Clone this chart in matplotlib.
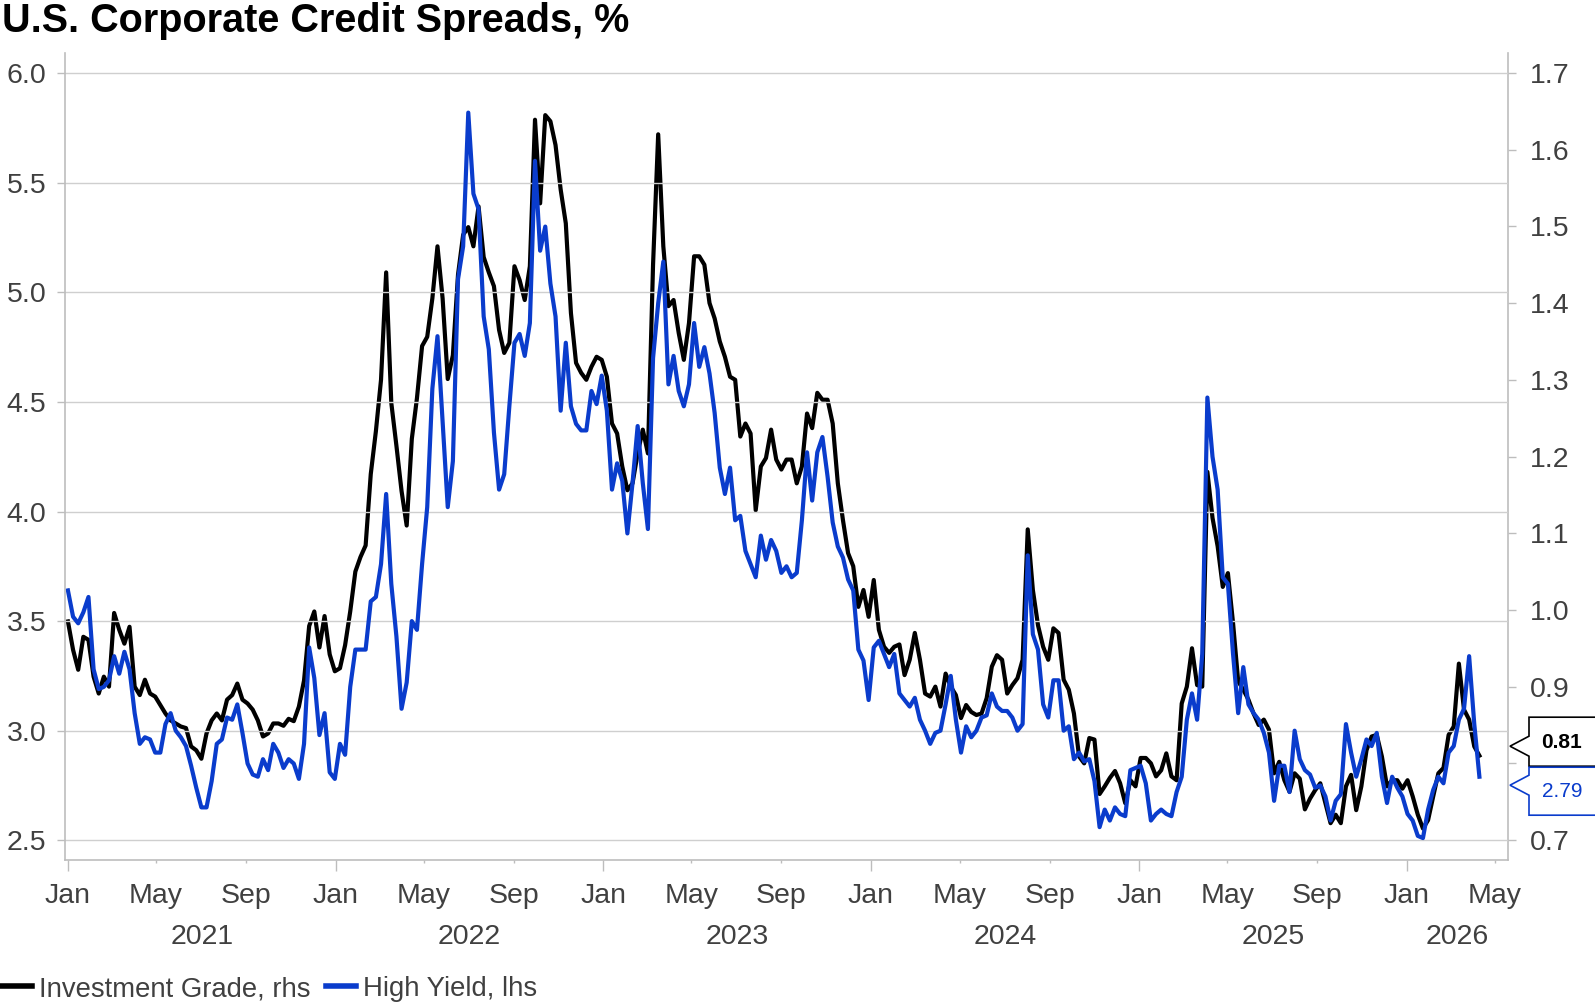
"""U.S. corporate credit spreads: IG (rhs) vs HY (lhs), weekly."""
import numpy as np
import pandas as pd
import matplotlib
matplotlib.use("Agg")
import matplotlib.pyplot as plt
import matplotlib.dates as mdates
import matplotlib.ticker as tkr
from matplotlib.patches import Polygon
from matplotlib.lines import Line2D
from matplotlib.transforms import IdentityTransform, blended_transform_factory

plt.rcParams['font.family'] = ['Liberation Sans', 'DejaVu Sans']

# weekly (Friday) observations, Jan 2021 - Apr 2026
dates = pd.date_range("2021-01-01", "2026-04-10", freq="W-FRI")

hy_2021 = [3.64, 3.52, 3.49, 3.54, 3.61, 3.28, 3.19, 3.20, 3.23, 3.34, 3.26, 3.36, 3.28,
           3.08, 2.94, 2.97, 2.96, 2.90, 2.90, 3.03, 3.08, 3.00, 2.97, 2.93, 2.84, 2.74,
           2.65, 2.65, 2.77, 2.94, 2.96, 3.06, 3.05, 3.12, 2.99, 2.85, 2.80, 2.79, 2.87,
           2.82, 2.94, 2.90, 2.83, 2.87, 2.85, 2.78, 2.94, 3.38, 3.24, 2.98, 3.08, 2.81, 2.78]
hy_2022 = [2.94, 2.89, 3.20, 3.37, 3.37, 3.37, 3.59, 3.61, 3.76, 4.08, 3.67, 3.43, 3.10,
           3.22, 3.50, 3.46, 3.76, 4.02, 4.56, 4.80, 4.41, 4.02, 4.23, 5.06, 5.21, 5.82,
           5.45, 5.38, 4.89, 4.74, 4.36, 4.10, 4.17, 4.48, 4.77, 4.81, 4.71, 4.86, 5.60,
           5.19, 5.30, 5.04, 4.89, 4.46, 4.77, 4.48, 4.40, 4.37, 4.37, 4.55, 4.49, 4.62]
hy_2023 = [4.46, 4.10, 4.22, 4.14, 3.90, 4.13, 4.39, 4.13, 3.92, 4.70, 4.95, 5.14, 4.58,
           4.71, 4.55, 4.48, 4.58, 4.86, 4.66, 4.75, 4.63, 4.45, 4.20, 4.08, 4.20, 3.96,
           3.98, 3.82, 3.76, 3.70, 3.89, 3.78, 3.87, 3.82, 3.72, 3.75, 3.70, 3.72, 3.96,
           4.27, 4.05, 4.27, 4.34, 4.16, 3.95, 3.84, 3.79, 3.69, 3.64, 3.37, 3.32, 3.14]
hy_2024 = [3.38, 3.41, 3.35, 3.29, 3.35, 3.17, 3.14, 3.11, 3.15, 3.05, 3.00, 2.94, 2.99,
           3.00, 3.12, 3.25, 3.05, 2.90, 3.02, 2.97, 3.00, 3.06, 3.07, 3.17, 3.11, 3.09,
           3.09, 3.06, 3.00, 3.03, 3.80, 3.44, 3.37, 3.12, 3.06, 3.23, 3.23, 3.00, 3.02,
           2.87, 2.90, 2.86, 2.87, 2.77, 2.56, 2.64, 2.59, 2.65, 2.62, 2.61, 2.82, 2.83]
hy_2025 = [2.84, 2.76, 2.59, 2.62, 2.64, 2.62, 2.61, 2.72, 2.79, 3.05, 3.17, 3.05, 3.35,
           4.52, 4.25, 4.10, 3.70, 3.67, 3.35, 3.08, 3.29, 3.12, 3.08, 3.05, 2.99, 2.90,
           2.68, 2.84, 2.84, 2.72, 3.00, 2.87, 2.82, 2.80, 2.74, 2.75, 2.70, 2.59, 2.68,
           2.71, 3.03, 2.90, 2.79, 2.87, 2.96, 2.93, 2.99, 2.79, 2.67, 2.79, 2.74, 2.70]
hy_2026 = [2.62, 2.59, 2.52, 2.51, 2.64, 2.73, 2.79, 2.76, 2.90, 2.93, 3.05, 3.10, 3.34,
           3.03, 2.79]

ig_2021 = [0.985, 0.948, 0.922, 0.965, 0.961, 0.913, 0.891, 0.913, 0.900, 0.996, 0.974,
           0.956, 0.978, 0.900, 0.889, 0.909, 0.891, 0.887, 0.876, 0.865, 0.856, 0.852,
           0.848, 0.846, 0.822, 0.817, 0.806, 0.839, 0.856, 0.865, 0.856, 0.883, 0.889,
           0.904, 0.883, 0.878, 0.870, 0.856, 0.835, 0.839, 0.852, 0.852, 0.849, 0.858,
           0.855, 0.874, 0.908, 0.979, 0.998, 0.951, 0.992, 0.942, 0.920]
ig_2022 = [0.924, 0.954, 0.998, 1.050, 1.069, 1.084, 1.177, 1.233, 1.300, 1.440, 1.270,
           1.214, 1.155, 1.110, 1.223, 1.276, 1.344, 1.356, 1.406, 1.474, 1.406, 1.301,
           1.332, 1.437, 1.489, 1.499, 1.474, 1.526, 1.460, 1.440, 1.422, 1.365, 1.335,
           1.348, 1.448, 1.430, 1.404, 1.448, 1.639, 1.530, 1.645, 1.637, 1.606, 1.548,
           1.504, 1.387, 1.322, 1.309, 1.300, 1.317, 1.330, 1.326]
ig_2023 = [1.304, 1.243, 1.230, 1.187, 1.156, 1.165, 1.204, 1.235, 1.204, 1.450, 1.620,
           1.474, 1.396, 1.404, 1.361, 1.326, 1.374, 1.461, 1.461, 1.450, 1.400, 1.380,
           1.350, 1.330, 1.304, 1.300, 1.226, 1.243, 1.230, 1.130, 1.187, 1.198, 1.235,
           1.196, 1.183, 1.196, 1.196, 1.165, 1.187, 1.256, 1.237, 1.283, 1.274, 1.274,
           1.243, 1.165, 1.117, 1.074, 1.057, 1.004, 1.026, 0.991]
ig_2024 = [1.039, 0.974, 0.952, 0.944, 0.952, 0.955, 0.915, 0.935, 0.970, 0.935, 0.891,
           0.887, 0.900, 0.874, 0.917, 0.900, 0.889, 0.859, 0.876, 0.867, 0.863, 0.865,
           0.885, 0.926, 0.941, 0.935, 0.891, 0.902, 0.911, 0.935, 1.105, 1.026, 0.980,
           0.952, 0.935, 0.976, 0.970, 0.909, 0.896, 0.865, 0.809, 0.800, 0.833, 0.831,
           0.760, 0.770, 0.781, 0.790, 0.774, 0.748, 0.778, 0.770]
ig_2025 = [0.807, 0.807, 0.800, 0.783, 0.791, 0.813, 0.783, 0.778, 0.878, 0.900, 0.950,
           0.902, 0.900, 1.180, 1.120, 1.083, 1.030, 1.048, 0.983, 0.907, 0.896, 0.883,
           0.865, 0.850, 0.857, 0.844, 0.787, 0.802, 0.778, 0.763, 0.787, 0.780, 0.740,
           0.754, 0.765, 0.774, 0.748, 0.722, 0.733, 0.722, 0.770, 0.785, 0.739, 0.770,
           0.817, 0.835, 0.837, 0.809, 0.770, 0.778, 0.778, 0.767]
ig_2026 = [0.778, 0.757, 0.733, 0.715, 0.726, 0.757, 0.787, 0.794, 0.837, 0.848, 0.930,
           0.870, 0.857, 0.822, 0.810]

years = [2021, 2022, 2023, 2024, 2025, 2026]

hy = np.concatenate([hy_2021, hy_2022, hy_2023, hy_2024, hy_2025, hy_2026])
ig = np.concatenate([ig_2021, ig_2022, ig_2023, ig_2024, ig_2025, ig_2026])

BLUE = '#0a3ccc'
GREY_TXT = '#404040'
GREY_LN = '#bdbdbd'

W, H = 1595, 1005
fig = plt.figure(figsize=(W / 100, H / 100), dpi=100)
ax = fig.add_axes([65 / W, 1 - 860 / H, (1508 - 65) / W, (860 - 53) / H])
ax2 = ax.twinx()
ax.set_zorder(2)
ax2.set_zorder(1)
ax.patch.set_visible(False)

l_ig, = ax2.plot(dates, ig, color='black', lw=3.0, label='Investment Grade, rhs')
l_hy, = ax.plot(dates, hy, color=BLUE, lw=3.0, label='High Yield, lhs')

# axes limits / ticks
ax.set_ylim(2.41, 6.092)
ax2.set_ylim(0.674, 1.726)
ax.set_yticks(np.arange(2.5, 6.01, 0.5))
ax2.set_yticks(np.arange(0.7, 1.71, 0.1))
ax.yaxis.set_major_formatter(tkr.FormatStrFormatter('%.1f'))
ax2.yaxis.set_major_formatter(tkr.FormatStrFormatter('%.1f'))

xmin, xmax = pd.Timestamp('2020-12-28'), pd.Timestamp('2026-05-19')
ax.set_xlim(xmin, xmax)
ax.xaxis.set_major_locator(mdates.YearLocator())
ax.xaxis.set_major_formatter(mdates.DateFormatter('%b'))
ax.xaxis.set_minor_locator(mdates.MonthLocator(bymonth=[5, 9]))
ax.xaxis.set_minor_formatter(mdates.DateFormatter('%b'))

ax.tick_params(axis='x', which='major', length=8, width=1, color=GREY_LN, pad=8.5,
               labelsize=20.5, labelcolor=GREY_TXT)
ax.tick_params(axis='x', which='minor', length=2.5, width=1, color=GREY_LN, pad=14,
               labelsize=20.5, labelcolor=GREY_TXT)
ax.tick_params(axis='y', length=6, width=1, color=GREY_LN, pad=7.5,
               labelsize=20.5, labelcolor=GREY_TXT)
ax2.tick_params(axis='y', length=6, width=1, color=GREY_LN, pad=9.5,
                labelsize=20.5, labelcolor=GREY_TXT)

ax.yaxis.grid(True, color='#cfcfcf', lw=1)
ax.set_axisbelow(True)

for s in ['top', 'right']:
    ax.spines[s].set_visible(False)
for s in ['left', 'bottom']:
    ax.spines[s].set_color(GREY_LN)
    ax.spines[s].set_linewidth(1.2)
for s in ['top', 'left', 'bottom']:
    ax2.spines[s].set_visible(False)
ax2.spines['right'].set_color(GREY_LN)
ax2.spines['right'].set_linewidth(1.2)

# year labels centred under each year
trans = blended_transform_factory(ax.transData, ax.transAxes)
for yr in years:
    start = pd.Timestamp(f'{yr}-01-01')
    end = min(pd.Timestamp(f'{yr + 1}-01-01'), xmax)
    mid = start + (end - start) / 2
    ax.text(mid, -0.0955, str(yr), transform=trans, ha='center', va='center',
            fontsize=20.5, color=GREY_TXT)

# title
fig.text(2 / W, 1 - 32 / H, 'U.S. Corporate Credit Spreads, %', ha='left',
         va='baseline', fontsize=28.5, fontweight='bold', color='black')

# legend
fig.legend(handles=[Line2D([], [], color='black', lw=4),
                    Line2D([], [], color=BLUE, lw=4)],
           labels=[l_ig.get_label(), l_hy.get_label()],
           loc='center left', bbox_to_anchor=(2 / W, 1 - 989 / H), ncol=2,
           frameon=False, fontsize=19.8, handlelength=1.1, handletextpad=0.25,
           columnspacing=0.55, borderaxespad=0, borderpad=0, labelcolor=GREY_TXT)

# last-value tags at the right edge
y_ig = ax2.transData.transform((mdates.date2num(dates[-1]), ig[-1]))[1]
y_hy = ax.transData.transform((mdates.date2num(dates[-1]), hy[-1]))[1]
mid = (y_ig + y_hy) / 2
x_tip, x_box, x_end = 1510, 1529, 1600

def tag(top, bot, tip, notch, ec):
    pts = [(x_box, top), (x_end, top), (x_end, bot), (x_box, bot),
           (x_box, tip - notch), (x_tip, tip), (x_box, tip + notch)]
    p = Polygon(pts, closed=True, transform=IdentityTransform(), fc='white',
                ec=ec, lw=1.2, clip_on=False, zorder=10)
    fig.add_artist(p)

# pixel coords (origin bottom-left): IG tag above, HY tag below
tag(mid + 49, mid, mid + 20, 10, 'black')
tag(mid - 1, mid - 49, mid - 19, 10, BLUE)
fig.text(1562 / W, (mid + 24) / H, f'{ig[-1]:.2f}', ha='center', va='center',
         fontsize=15, fontweight='bold', color='black', zorder=11)
fig.text(1562 / W, (mid - 25) / H, f'{hy[-1]:.2f}', ha='center', va='center',
         fontsize=15, color=BLUE, zorder=11)

fig.savefig('out.png', dpi=100)
